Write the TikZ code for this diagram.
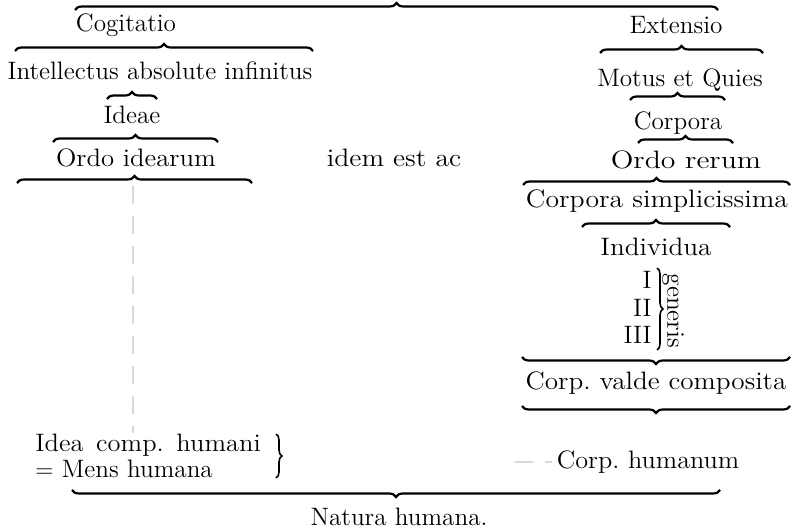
\documentclass[tikz,border=0pt]{standalone}
\usepackage{tikz}
\usetikzlibrary{decorations.pathreplacing}
\newcommand\lblfont{\fontsize{12.6}{15}\selectfont}
\newcommand\sx[2]{\scalebox{#1}[1]{#2}}
\tikzset{
  brc/.style={decorate, decoration={brace, amplitude=3.5pt}, line width=1.1pt},
  brcv/.style={decorate, decoration={brace, amplitude=3pt}, line width=0.8pt},
  faint/.style={gray!30, line width=0.6pt, dash pattern=on 9pt off 6pt}
}
\begin{document}
\begin{tikzpicture}[x=0.5pt, y=-0.5pt, every node/.style={inner sep=0pt, font=\lblfont}]
                \useasboundingbox (0,0) rectangle (795,528);

                % Nodes
                \node at (126,25) (cogit) {Cogitatio};
                \node at (160,71) (intel) {Intellectus absolute infinitus};
                \node at (132,115) (ideae) {Ideae};
                \node at (136,158) (ordid) {\sx{1.06}{Ordo idearum}};
                \node at (394,158) (idem) {\sx{1.1}{idem est ac}};
                \node at (676,25) (ext) {Extensio};
                \node at (680,80) (motus) {Motus et Quies};
                \node at (678,123) (corp) {Corpora};
                \node at (686,160) (ordre) {\sx{1.18}{Ordo rerum}};
                \node at (657,201) (simpl) {\sx{1.1}{Corpora simplicissima}};
                \node at (656,247) (indiv) {\sx{1.08}{Individua}};
                \node[anchor=east] at (652,280) (g1) {I};
                \node[anchor=east] at (652,308) (g2) {II};
                \node[anchor=east] at (652,335) (g3) {III};
                \node[rotate=-90] at (673,311) (gen) {generis};
                \node at (656,383) (valde) {\sx{1.08}{Corp.\ valde composita}};
                \node at (648,462) (corph) {\sx{1.04}{Corp.\ humanum}};
                \node[anchor=west] at (35,445) (idea) {\sx{1.05}{\spaceskip=6pt\relax Idea comp.\ humani}};
                \node[anchor=west] at (35,469) (mens) {$=$ Mens humana};
                \node at (399,517) (natura) {Natura humana.};
                \coordinate (tipL) at (133,186);
                \coordinate (dashstart) at (515,462);

                % Braces
                \draw[brc] (75,10) -- (718,10);
                \draw[brc] (15,51) -- (313,51);
                \draw[brc] (107,99) -- (157,99);
                \draw[brc] (53,142) -- (218,142);
                \draw[brc] (17,183) -- (252,183);
                \draw[brc] (600,53) -- (763,53);
                \draw[brc] (630,100) -- (725,100);
                \draw[brc] (638,143) -- (733,143);
                \draw[brc] (523,185) -- (790,185);
                \draw[brc] (582,227) -- (730,227);
                \draw[brc] (790,357) -- (522,357);
                \draw[brc] (790,406) -- (522,406);
                \draw[brc] (720,490) -- (72,490);
                \draw[brcv] (657,268) -- (657,350);
                \draw[brcv] (276,434) -- (276,478);

                % Dashed links
                \draw[faint] (tipL) -- (tipL |- idea.north);
                \draw[faint] (dashstart) -- ([xshift=-2pt]corph.west);

            \end{tikzpicture}
\end{document}
